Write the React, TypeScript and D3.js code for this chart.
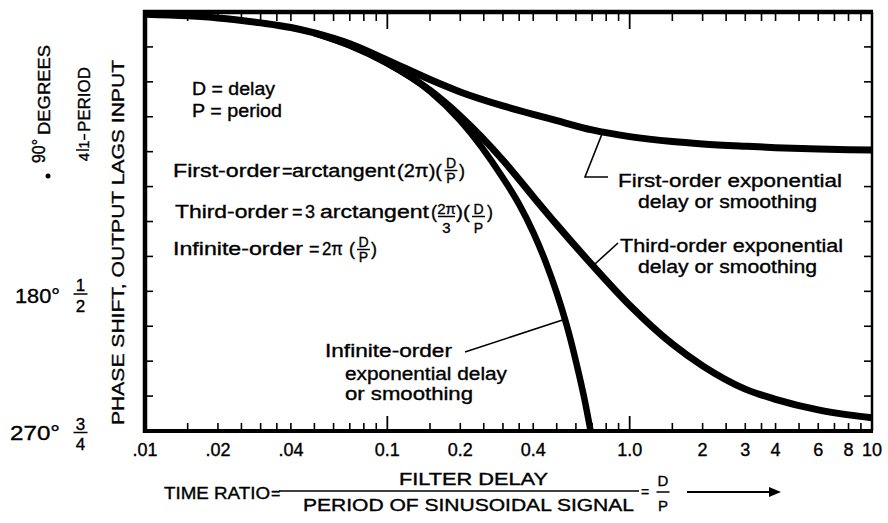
import React from "react";
import * as d3 from "d3";

// ---- data ----
const firstRatio = [0.01, 0.015, 0.02, 0.03, 0.04, 0.05, 0.07, 0.1, 0.15, 0.2, 0.3, 0.4, 0.5, 0.7, 1, 1.5, 2, 3, 4, 6, 8, 10];
const firstPhase = [1.5, 2.5, 3.8, 7, 10, 13.5, 20.5, 31, 43.5, 51.5, 60.5, 66, 70, 76, 80.3, 83.5, 85, 86.5, 87.4, 88.3, 88.7, 89];
const thirdRatio = [0.05, 0.07, 0.1, 0.15, 0.2, 0.3, 0.4, 0.5, 0.7, 1, 1.5, 2, 3, 4, 6, 8, 10];
const thirdPhase = [13.5, 21.5, 33, 50.5, 67, 95.5, 119, 137, 163, 189, 214, 228, 243, 249.6, 256.4, 259.6, 261.5];
const infiniteRatio = [0.05, 0.07, 0.1, 0.15, 0.2, 0.3, 0.35, 0.4, 0.45, 0.5, 0.55, 0.6, 0.65, 0.69];
const infinitePhase = [13.5, 21.5, 33, 51, 70, 107, 124, 142, 161, 181, 202, 225, 249, 270];

const xMajorTicks = [0.1, 1];
const xMinorTicks = [0.015, 0.02, 0.025, 0.03, 0.035, 0.04, 0.05, 0.06, 0.07, 0.08, 0.09,
  0.15, 0.2, 0.25, 0.3, 0.35, 0.4, 0.5, 0.6, 0.7, 0.8, 0.9,
  1.5, 2, 2.5, 3, 3.5, 4, 5, 6, 7, 8, 9];
const xLabelValues = [0.01, 0.02, 0.04, 0.1, 0.2, 0.4, 1, 2, 3, 4, 6, 8, 10];
const xLabelTexts = [".01", ".02", ".04", "0.1", "0.2", "0.4", "1.0", "2", "3", "4", "6", "8", "10"];
const yTickValues = [22.5, 45, 67.5, 90, 112.5, 135, 157.5, 180, 202.5, 225, 247.5];

// annotation anchor points on the curves (ratio, degrees)
const firstAnchor = [0.77, 78.3];
const thirdAnchor = [0.706, 163.5];
const infiniteAnchor = [0.54, 198];

const W = 888, H = 523;
const L = 145, R = 872, T = 12, B = 431;
const FONT = "'Liberation Sans', Arial, sans-serif";

function Txt(props: any) {
  const { x, y, len, size = 18, anchor = "start", rot = false, children } = props;
  const extra: any = {};
  if (len) { extra.textLength = len; extra.lengthAdjust = "spacingAndGlyphs"; }
  const common = { textAnchor: anchor, fontSize: size, fill: "#000", stroke: "#000", strokeWidth: 0.35 };
  if (rot) {
    return (
      <text transform={`translate(${x},${y}) rotate(-90)`} {...common} {...extra}>{children}</text>
    );
  }
  return <text x={x} y={y} {...common} {...extra}>{children}</text>;
}

function Frac(props: any) {
  const { cx, top, bottom, yTop, yBar, yBottom, w, size = 14 } = props;
  return (
    <g>
      <Txt x={cx} y={yTop} anchor="middle" size={size}>{top}</Txt>
      <line x1={cx - w / 2} x2={cx + w / 2} y1={yBar} y2={yBar} stroke="#000" strokeWidth={1.5} />
      <Txt x={cx} y={yBottom} anchor="middle" size={size}>{bottom}</Txt>
    </g>
  );
}

export default function App() {
  const x = d3.scaleLog().domain([0.01, 10]).range([L, R]);
  const y = d3.scaleLinear().domain([0, 270]).range([T, B]);
  const line = d3.line<number[]>().x(d => x(d[0])).y(d => y(d[1])).curve(d3.curveMonotoneX);

  const first = firstRatio.map((r, i) => [r, firstPhase[i]]);
  const third = thirdRatio.map((r, i) => [r, thirdPhase[i]]);
  const infinite = infiniteRatio.map((r, i) => [r, infinitePhase[i]]);

  const fa = [x(firstAnchor[0]), y(firstAnchor[1])];
  const ta = [x(thirdAnchor[0]), y(thirdAnchor[1])];
  const ia = [x(infiniteAnchor[0]), y(infiniteAnchor[1])];

  return (
    <svg width={W} height={H} style={{ position: "absolute", left: 0, top: 0, background: "#fff" }} fontFamily={FONT}>
      <rect x={0} y={0} width={W} height={H} fill="#fff" />

      {/* ticks */}
      {xMinorTicks.map(v => (
        <g key={"xm" + v}>
          <line x1={x(v)} x2={x(v)} y1={B} y2={B - 8} stroke="#000" strokeWidth={1.6} />
          <line x1={x(v)} x2={x(v)} y1={T} y2={T + 9} stroke="#000" strokeWidth={1.6} />
        </g>
      ))}
      {xMajorTicks.map(v => (
        <g key={"xM" + v}>
          <line x1={x(v)} x2={x(v)} y1={B} y2={B - 15} stroke="#000" strokeWidth={1.8} />
          <line x1={x(v)} x2={x(v)} y1={T} y2={T + 17} stroke="#000" strokeWidth={1.8} />
        </g>
      ))}
      {yTickValues.map(v => (
        <g key={"y" + v}>
          <line x1={L} x2={L + 8} y1={y(v)} y2={y(v)} stroke="#000" strokeWidth={1.6} />
          <line x1={R} x2={R - 8} y1={y(v)} y2={y(v)} stroke="#000" strokeWidth={1.6} />
        </g>
      ))}

      {/* frame */}
      <line x1={L - 2} x2={R + 1} y1={T} y2={T} stroke="#000" strokeWidth={4.5} />
      <line x1={L} x2={L} y1={T - 2} y2={B + 2} stroke="#000" strokeWidth={4.5} />
      <line x1={L - 2} x2={R + 1} y1={B} y2={B} stroke="#000" strokeWidth={4} />
      <line x1={R} x2={R} y1={T} y2={B} stroke="#000" strokeWidth={2.5} />

      {/* curves */}
      <path d={line(first) || ""} fill="none" stroke="#000" strokeWidth={7} />
      <path d={line(third) || ""} fill="none" stroke="#000" strokeWidth={7} />
      <path d={line(infinite) || ""} fill="none" stroke="#000" strokeWidth={6.5} />

      {/* x tick labels */}
      {xLabelValues.map((v, i) => (
        <Txt key={"xl" + v} x={x(v)} y={456} size={18} anchor="middle">{xLabelTexts[i]}</Txt>
      ))}

      {/* left labels */}
      <Txt x={50} y={90} len={90} size={17} anchor="middle" rot>DEGREES</Txt>
      <Txt x={45} y={151} len={24} size={18} anchor="middle" rot>90°</Txt>
      <circle cx={48} cy={176} r={2.5} fill="#000" />
      <Txt x={90} y={99.5} len={65} size={17} anchor="middle" rot>PERIOD</Txt>
      <line x1={84.5} x2={84.5} y1={134} y2={140} stroke="#000" strokeWidth={1.6} />
      <Txt x={89} y={144.5} size={15} anchor="middle" rot>1</Txt>
      <line x1={76} x2={89} y1={150} y2={150} stroke="#000" strokeWidth={1.5} />
      <Txt x={89} y={157} size={15} anchor="middle" rot>4</Txt>
      <Txt x={124} y={242.5} len={365} size={17} anchor="middle" rot>PHASE SHIFT, OUTPUT LAGS INPUT</Txt>

      <Txt x={15} y={303} len={45} size={20}>180°</Txt>
      <Frac cx={80.5} top="1" bottom="2" yTop={291} yBar={294} yBottom={312} w={14} size={17} />
      <Txt x={10} y={440} len={50} size={20}>270°</Txt>
      <Frac cx={80.5} top="3" bottom="4" yTop={430} yBar={432.5} yBottom={450} w={14} size={17} />

      {/* definitions */}
      <Txt x={192} y={95} len={83} size={18}>D = delay</Txt>
      <Txt x={192} y={117} len={90} size={18}>P = period</Txt>

      <Txt x={173} y={177} len={107} size={18}>First-order</Txt>
      <Txt x={282} y={177} size={18}>=</Txt>
      <Txt x={292} y={177} len={103} size={18}>arctangent</Txt>
      <Txt x={397} y={177} len={45} size={18}>(2π)(</Txt>
      <Frac cx={451} top="D" bottom="P" yTop={168} yBar={170.5} yBottom={183} w={13} size={14} />
      <Txt x={459} y={177} size={18}>)</Txt>

      <Txt x={175} y={218} len={113} size={18}>Third-order</Txt>
      <Txt x={292} y={218} size={18}>=</Txt>
      <Txt x={305} y={218} size={18}>3</Txt>
      <Txt x={320} y={218} len={109} size={18}>arctangent</Txt>
      <Txt x={431} y={218} size={18}>(</Txt>
      <Frac cx={446.5} top="2π" bottom="3" yTop={214} yBar={216.5} yBottom={233} w={17} size={15} />
      <Txt x={456} y={218} len={14} size={18}>)(</Txt>
      <Frac cx={478.5} top="D" bottom="P" yTop={214} yBar={216.5} yBottom={233} w={13} size={14} />
      <Txt x={487} y={218} size={18}>)</Txt>

      <Txt x={173} y={255} len={130} size={18}>Infinite-order</Txt>
      <Txt x={309} y={255} size={18}>=</Txt>
      <Txt x={322} y={255} len={21} size={18}>2π</Txt>
      <Txt x={349} y={255} size={18}>(</Txt>
      <Frac cx={363.5} top="D" bottom="P" yTop={247} yBar={249.5} yBottom={262} w={13} size={14} />
      <Txt x={371} y={255} size={18}>)</Txt>

      {/* curve annotations */}
      <polyline points={`${fa[0]},${fa[1]} 585,177 608,177`} fill="none" stroke="#000" strokeWidth={1.6} />
      <Txt x={618} y={187} len={224} size={18}>First-order exponential</Txt>
      <Txt x={638} y={208} len={179} size={18}>delay or smoothing</Txt>

      <line x1={ta[0]} y1={ta[1]} x2={618} y2={243} stroke="#000" strokeWidth={1.6} />
      <Txt x={620} y={252} len={223} size={18}>Third-order exponential</Txt>
      <Txt x={638} y={273} len={179} size={18}>delay or smoothing</Txt>

      <line x1={ia[0]} y1={ia[1]} x2={465} y2={352} stroke="#000" strokeWidth={1.6} />
      <Txt x={325} y={357} len={127} size={18}>Infinite-order</Txt>
      <Txt x={345} y={380} len={162} size={18}>exponential delay</Txt>
      <Txt x={345} y={400} len={128} size={18}>or smoothing</Txt>

      {/* x-axis title */}
      <Txt x={164} y={499} len={106} size={16}>TIME RATIO</Txt>
      <Txt x={271} y={499} size={16}>=</Txt>
      <Txt x={399} y={485} len={149} size={16}>FILTER DELAY</Txt>
      <line x1={279} x2={639} y1={491} y2={491} stroke="#000" strokeWidth={1.5} />
      <Txt x={303} y={511} len={331} size={16}>PERIOD OF SINUSOIDAL SIGNAL</Txt>
      <Txt x={641} y={497} size={14}>=</Txt>
      <Frac cx={663} top="D" bottom="P" yTop={486} yBar={492} yBottom={511} w={13} size={15} />
      <line x1={687} x2={772} y1={492} y2={492} stroke="#000" strokeWidth={1.8} />
      <polygon points="769,487 781,492 769,497" fill="#000" />
    </svg>
  );
}
